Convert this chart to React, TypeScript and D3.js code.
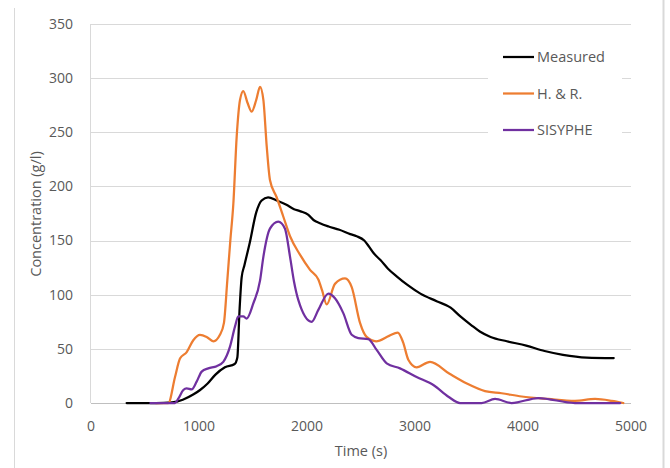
import React from "react";
import * as d3 from "d3";

const measuredT = [330, 600, 750, 850, 950, 1010, 1080, 1150, 1240, 1330, 1355, 1375, 1395, 1420, 1470, 1530, 1580, 1640, 1720, 1810, 1880, 1940, 2010, 2060, 2120, 2200, 2300, 2400, 2460, 2530, 2570, 2620, 2680, 2750, 2830, 2930, 3050, 3200, 3330, 3420, 3520, 3600, 3700, 3850, 4030, 4200, 4370, 4590, 4840];
const measuredC = [0, 0, 0.5, 3, 8, 12, 18, 26, 33, 36, 42, 85, 116, 127, 148, 176, 187, 190, 187, 183, 179, 177, 174, 169, 166, 163, 160, 156, 154, 150, 145, 138, 132, 124, 117, 109, 101, 94, 88, 80, 72, 66, 61, 57, 53, 48, 44.5, 42, 41.5];

const hrT = [600, 716, 778, 824, 886, 947, 1009, 1071, 1133, 1194, 1231, 1262, 1290, 1318, 1349, 1380, 1410, 1450, 1488, 1530, 1565, 1596, 1627, 1657, 1719, 1781, 1843, 1935, 2028, 2105, 2140, 2182, 2259, 2352, 2414, 2491, 2552, 2640, 2760, 2840, 2890, 2938, 3015, 3139, 3320, 3480, 3648, 3802, 3988, 4235, 4481, 4667, 4821, 4929];
const hrC = [0, 0, 24, 41, 47, 58, 63, 61, 57, 63, 74, 113, 150, 184, 246, 280, 288, 277, 269, 280, 292, 280, 237, 206, 190, 172, 154, 137, 123, 114, 104, 91, 110, 115, 107, 74, 61, 57, 62, 65, 56, 40, 33, 38, 27, 18, 11, 9, 6, 3.7, 2, 3.7, 2, 0];

const sisT = [550, 778, 808, 855, 886, 932, 978, 1025, 1086, 1164, 1225, 1287, 1333, 1364, 1410, 1441, 1503, 1565, 1596, 1657, 1734, 1796, 1843, 1880, 1920, 2043, 2105, 2198, 2259, 2336, 2414, 2475, 2568, 2645, 2738, 2861, 3015, 3170, 3309, 3417, 3617, 3741, 3895, 4142, 4481, 4900];
const sisC = [0, 0, 4, 12, 13.5, 12.6, 19.7, 29, 32, 34, 38, 52, 70.5, 80, 80, 78, 92, 113, 135, 161, 167.5, 161, 135, 112, 95, 75, 86, 101, 96.7, 83, 63, 60, 59, 49, 36.6, 32, 24, 16.6, 5.8, 0, 0, 3.7, 0, 4.6, 0, 0];

const xTicks = [0, 1000, 2000, 3000, 4000, 5000];
const yTicks = [0, 50, 100, 150, 200, 250, 300, 350];

const seriesNames = ["Measured", "H. & R.", "SISYPHE"];
const seriesColors = ["#000000", "#ED7D31", "#7030A0"];

const FONT = "'Open Sans', sans-serif";
const TXT = "#595959";

export default function App() {
  const x = d3.scaleLinear().domain([0, 5000]).range([91, 631]);
  const y = d3.scaleLinear().domain([0, 350]).range([403, 24]);

  const series = [
    measuredT.map((t, i) => [t, measuredC[i]] as [number, number]),
    hrT.map((t, i) => [t, hrC[i]] as [number, number]),
    sisT.map((t, i) => [t, sisC[i]] as [number, number]),
  ];

  const line = d3
    .line<[number, number]>()
    .x((d) => x(d[0]))
    .y((d) => y(d[1]))
    .curve(d3.curveMonotoneX);

  return (
    <svg
      width={670}
      height={468}
      style={{ position: "absolute", left: 0, top: 0, background: "#fff" }}
      fontFamily={FONT}
    >
      <rect x={0} y={0} width={670} height={468} fill="#fff" />
      <line x1={14.5} x2={14.5} y1={8} y2={468} stroke="#d9d9d9" strokeWidth={1} />
      <line x1={663.5} x2={663.5} y1={0} y2={468} stroke="#d9d9d9" strokeWidth={2} />

      {yTicks.map((v) => (
        <line
          key={"g" + v}
          x1={x(0)}
          x2={x(5000)}
          y1={Math.round(y(v)) + 0.5}
          y2={Math.round(y(v)) + 0.5}
          stroke={v === 0 ? "#bfbfbf" : "#d9d9d9"}
          strokeWidth={1}
        />
      ))}
      <line x1={x(0) - 0.5} x2={x(0) - 0.5} y1={y(350)} y2={y(0)} stroke="#d9d9d9" strokeWidth={1} />

      {yTicks.map((v) => (
        <text
          key={"yt" + v}
          x={73}
          y={y(v)}
          dy="0.35em"
          textAnchor="end"
          fontSize={14}
          fill={TXT}
        >
          {v}
        </text>
      ))}
      {xTicks.map((v) => (
        <text
          key={"xt" + v}
          x={x(v)}
          y={426}
          dy="0.35em"
          textAnchor="middle"
          fontSize={14}
          fill={TXT}
        >
          {v}
        </text>
      ))}

      <text x={361} y={451} dy="0.35em" textAnchor="middle" fontSize={14.5} fill={TXT}>
        Time (s)
      </text>
      <text
        transform={`translate(36,214) rotate(-90)`}
        textAnchor="middle"
        dy="0.35em"
        fontSize={14.5}
        fill={TXT}
      >
        Concentration (g/l)
      </text>

      {series.map((s, i) => (
        <path
          key={"s" + i}
          d={line(s) || ""}
          fill="none"
          stroke={seriesColors[i]}
          strokeWidth={2.25}
          strokeLinejoin="round"
          strokeLinecap="round"
        />
      ))}

      <rect x={488} y={36} width={134} height={114} fill="#fff" />
      {seriesNames.map((n, i) => (
        <g key={"l" + i} transform={`translate(0,${57 + i * 36.5})`}>
          <line x1={503} x2={534} y1={0} y2={0} stroke={seriesColors[i]} strokeWidth={2.25} />
          <text x={537} y={0} dy="0.35em" fontSize={14.5} fill={TXT}>
            {n}
          </text>
        </g>
      ))}
    </svg>
  );
}
